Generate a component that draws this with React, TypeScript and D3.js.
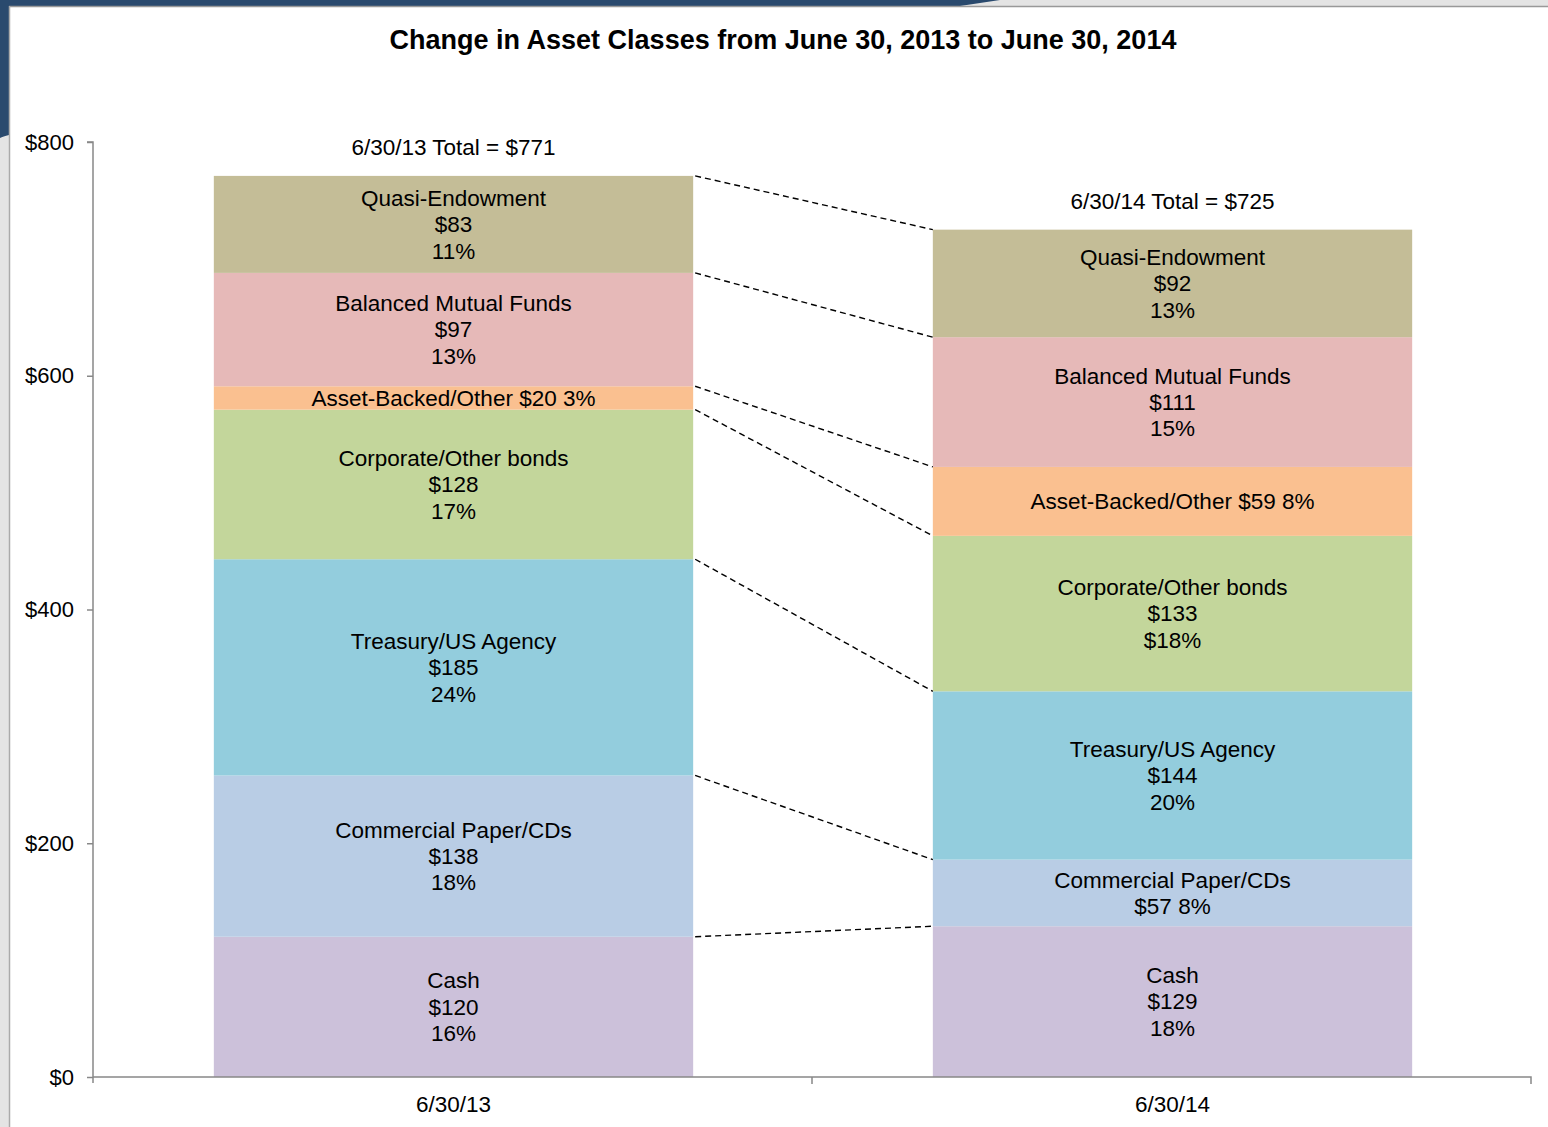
import React, { useEffect, useRef } from "react";
import * as d3 from "d3";

// data
const dates = ["6/30/13", "6/30/14"];
const classes = [
  "Cash",
  "Commercial Paper/CDs",
  "Treasury/US Agency",
  "Corporate/Other bonds",
  "Asset-Backed/Other",
  "Balanced Mutual Funds",
  "Quasi-Endowment",
];
const values2013 = [120, 138, 185, 128, 20, 97, 83];
const values2014 = [129, 57, 144, 133, 59, 111, 92];
const pct2013 = ["16%", "18%", "24%", "17%", "3%", "13%", "11%"];
const pct2014 = ["18%", "8%", "20%", "$18%", "8%", "15%", "13%"];
// how each label is broken into lines (1 = one line, 2 = name / value pct, 3 = three lines)
const lines2013 = [3, 3, 3, 3, 1, 3, 3];
const lines2014 = [3, 2, 3, 3, 1, 3, 3];
const totals = [771, 725];
const yTicks = [0, 200, 400, 600, 800];
const colors = ["#ccc1da", "#b9cde5", "#93cddd", "#c3d69b", "#fac090", "#e6b9b8", "#c4bd97"];

const W = 1548;
const H = 1127;
const FONT = "'Liberation Sans', Arial, sans-serif";

export default function App() {
  const ref = useRef<SVGSVGElement>(null);

  useEffect(() => {
    const svg = d3.select(ref.current);
    svg.selectAll("*").remove();

    // frame / background
    svg.append("rect").attr("width", W).attr("height", H).attr("fill", "#e4e4e4");
    svg.append("path")
      .attr("d", "M0,0 L1000,0 L960,6 L9,6 L9,135 C5,136 2,137 0,138 Z")
      .attr("fill", "#2a4a6e");
    svg.append("rect")
      .attr("x", 9).attr("y", 6).attr("width", W - 9).attr("height", H - 6)
      .attr("fill", "#fff");
    svg.append("line").attr("x1", 9).attr("x2", W).attr("y1", 6.5).attr("y2", 6.5)
      .attr("stroke", "#999").attr("stroke-width", 1.5);
    svg.append("line").attr("x1", 9.5).attr("x2", 9.5).attr("y1", 6).attr("y2", H)
      .attr("stroke", "#aaa").attr("stroke-width", 1.5);

    const left = 93, right = 1531, top = 142, bottom = 1077;

    const x = d3.scaleBand<string>()
      .domain(dates)
      .range([left, right])
      .paddingInner(1 / 3)
      .paddingOuter(1 / 6);

    const y = d3.scaleLinear().domain([0, 800]).range([bottom, top]);

    const series = [values2013, values2014];
    const pcts = [pct2013, pct2014];
    const lineModes = [lines2013, lines2014];

    const stacks = series.map((vals) => {
      let acc = 0;
      return vals.map((v) => {
        const y0 = acc;
        acc += v;
        return { y0, y1: acc, v };
      });
    });

    // bars
    dates.forEach((d, i) => {
      const g = svg.append("g");
      g.selectAll("rect")
        .data(stacks[i])
        .join("rect")
        .attr("x", x(d)! + 1)
        .attr("width", x.bandwidth())
        .attr("y", (s) => y(s.y1))
        .attr("height", (s) => y(s.y0) - y(s.y1))
        .attr("fill", (s, j) => colors[j]);
    });

    // dashed connectors between the stacks
    const x1 = x(dates[0])! + x.bandwidth() + 1;
    const x2 = x(dates[1])! + 1;
    svg.append("g")
      .selectAll("line")
      .data(stacks[0].map((s, j) => [s.y1, stacks[1][j].y1]))
      .join("line")
      .attr("x1", x1 + 2)
      .attr("x2", x2)
      .attr("y1", (p) => y(p[0]))
      .attr("y2", (p) => y(p[1]))
      .attr("stroke", "#000")
      .attr("stroke-width", 1.4)
      .attr("stroke-dasharray", "6,4");

    // segment labels
    dates.forEach((d, i) => {
      const cx = x(d)! + x.bandwidth() / 2 + 1;
      stacks[i].forEach((s, j) => {
        const mode = lineModes[i][j];
        let rows: string[];
        if (mode === 1) rows = [`${classes[j]} $${s.v} ${pcts[i][j]}`];
        else if (mode === 2) rows = [classes[j], `$${s.v} ${pcts[i][j]}`];
        else rows = [classes[j], `$${s.v}`, pcts[i][j]];
        const cy = (y(s.y0) + y(s.y1)) / 2;
        const lh = 26.3;
        const t = svg.append("text")
          .attr("text-anchor", "middle")
          .attr("font-family", FONT)
          .attr("font-size", 22.5)
          .attr("fill", "#000");
        rows.forEach((r, k) => {
          t.append("tspan")
            .attr("x", cx)
            .attr("y", cy + (k - (rows.length - 1) / 2) * lh)
            .attr("dy", "0.35em")
            .text(r);
        });
      });

      svg.append("text")
        .attr("x", cx)
        .attr("y", y(totals[i]) - 29)
        .attr("dy", "0.35em")
        .attr("text-anchor", "middle")
        .attr("font-family", FONT)
        .attr("font-size", 22.5)
        .text(`${d} Total = $${totals[i]}`);
    });

    // y axis
    const yAxis = svg.append("g")
      .attr("transform", `translate(${left},0)`)
      .call(d3.axisLeft(y).tickValues(yTicks).tickSize(6).tickPadding(13).tickFormat((v) => `$${v}`));
    yAxis.select(".domain").attr("stroke", "#888").attr("stroke-width", 1.5).attr("d", `M-6,${top}H0V${bottom + 6}`);
    yAxis.selectAll(".tick line").attr("stroke", "#888").attr("stroke-width", 1.5);
    yAxis.selectAll(".tick text").attr("font-family", FONT).attr("font-size", 22).attr("fill", "#000");

    // x axis
    const xAxis = svg.append("g").attr("transform", `translate(0,${bottom})`);
    xAxis.append("path")
      .attr("d", `M${left},0H${right}V7M${(left + right) / 2},0V7`)
      .attr("fill", "none")
      .attr("stroke", "#888")
      .attr("stroke-width", 1.5);
    xAxis.selectAll("text")
      .data(dates)
      .join("text")
      .attr("x", (d) => x(d)! + x.bandwidth() / 2 + 1)
      .attr("y", 27)
      .attr("dy", "0.35em")
      .attr("text-anchor", "middle")
      .attr("font-family", FONT)
      .attr("font-size", 22.5)
      .text((d) => d);

    // title
    svg.append("text")
      .attr("x", 783)
      .attr("y", 40)
      .attr("dy", "0.35em")
      .attr("text-anchor", "middle")
      .attr("font-family", FONT)
      .attr("font-size", 27)
      .attr("font-weight", "bold")
      .text("Change in Asset Classes from June 30, 2013 to June 30, 2014");
  }, []);

  return (
    <svg
      ref={ref}
      width={W}
      height={H}
      style={{ position: "absolute", left: 0, top: 0, display: "block" }}
    />
  );
}
